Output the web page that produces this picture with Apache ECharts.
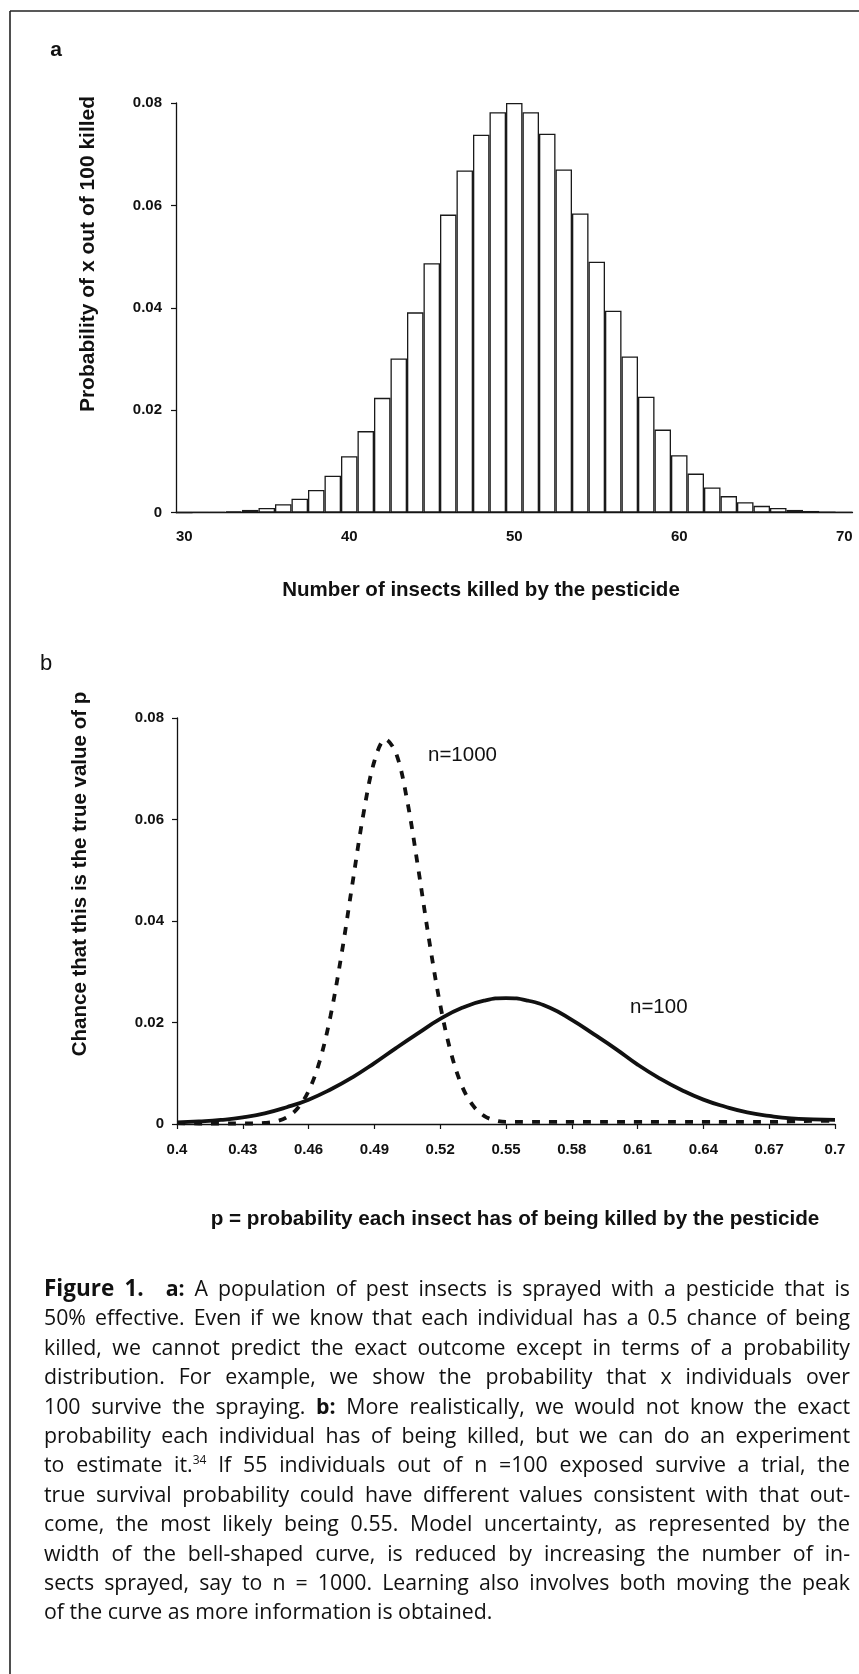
<!DOCTYPE html>
<html><head><meta charset="utf-8">
<script src="https://cdn.jsdelivr.net/npm/echarts@6/dist/echarts.min.js"></script>
<style>
html,body{margin:0;padding:0;background:#fff;}
#chart{position:absolute;left:0;top:0;width:859px;height:1674px;}
#caption{position:absolute;left:44px;top:1273px;width:806px;font-family:"Open Sans",sans-serif;font-size:21.3px;line-height:29.4px;color:#111;}
#caption div{text-align:justify;text-align-last:justify;white-space:nowrap;}
#caption div.last{text-align-last:left;}
#caption b{font-weight:700;}
#caption b.fig{font-size:22.5px;}
#caption sup{font-size:12px;line-height:0;vertical-align:8px;}
#caption .gap{display:inline-block;width:12px;}
</style></head><body>
<div id="chart"></div>
<div id="caption">
<div><b class="fig">Figure 1.</b><span class="gap"></span> <b>a:</b> A population of pest insects is sprayed with a pesticide that is</div>
<div>50% effective. Even if we know that each individual has a 0.5 chance of being</div>
<div>killed, we cannot predict the exact outcome except in terms of a probability</div>
<div>distribution. For example, we show the probability that x individuals over</div>
<div>100 survive the spraying. <b>b:</b> More realistically, we would not know the exact</div>
<div>probability each individual has of being killed, but we can do an experiment</div>
<div>to estimate it.<sup>34</sup> If 55 individuals out of n =100 exposed survive a trial, the</div>
<div>true survival probability could have different values consistent with that out-</div>
<div>come, the most likely being 0.55. Model uncertainty, as represented by the</div>
<div>width of the bell-shaped curve, is reduced by increasing the number of in-</div>
<div>sects sprayed, say to n = 1000. Learning also involves both moving the peak</div>
<div class="last">of the curve as more information is obtained.</div>
</div>
<script>
// Panel a: number killed (categories) and probabilities
const killedCategories = ['30','31','32','33','34','35','36','37','38','39','40','41','42','43','44','45','46','47','48','49','50','51','52','53','54','55','56','57','58','59','60','61','62','63','64','65','66','67','68','69','70'];
const killedProb = [0, 0.00002, 0.00005, 0.0002, 0.0005, 0.0009, 0.0016, 0.0027, 0.0044, 0.0072,
  0.0110, 0.0159, 0.0224, 0.0301, 0.0391, 0.0487, 0.0582, 0.0668, 0.0738, 0.0782,
  0.0800, 0.0782, 0.0740, 0.0670, 0.0584, 0.0490, 0.0394, 0.0305, 0.0226, 0.0162,
  0.0112, 0.0076, 0.0049, 0.0032, 0.0020, 0.0013, 0.0009, 0.0005, 0.0003, 0.0001, 0.00005];

// Panel b: tick labels and the two curves
const pTickLabels = [0.4, 0.43, 0.46, 0.49, 0.52, 0.55, 0.58, 0.61, 0.64, 0.67, 0.7];
const pN100 = [0.40,0.41,0.42,0.43,0.44,0.45,0.46,0.47,0.48,0.49,0.50,0.51,0.52,0.53,0.54,0.55,0.56,0.57,0.58,0.59,0.60,0.61,0.62,0.63,0.64,0.65,0.66,0.67,0.68,0.69,0.70];
const chanceN100 = [0.0003,0.0005,0.0008,0.0013,0.0021,0.0033,0.0048,0.0068,0.0092,0.0120,0.0150,0.0179,0.0207,0.0229,0.0243,0.0248,0.0243,0.0229,0.0205,0.0177,0.0148,0.0117,0.0090,0.0067,0.0048,0.0034,0.0023,0.0016,0.0011,0.0009,0.0008];
const pN1000 = [0.40,0.41,0.42,0.43,0.435,0.44,0.445,0.45,0.455,0.46,0.465,0.47,0.475,0.48,0.485,0.49,0.495,0.50,0.505,0.51,0.515,0.52,0.525,0.53,0.535,0.54,0.545,0.55,0.56,0.57,0.58,0.59,0.60,0.61,0.62,0.63,0.64,0.65,0.66,0.67,0.68,0.69,0.70];
const chanceN1000 = [0.0002,0.0001,0.0001,0.0001,0.0001,0.0002,0.0005,0.0013,0.0031,0.0065,0.0123,0.0213,0.0334,0.0474,0.0611,0.0715,0.0758,0.0729,0.0636,0.0503,0.0361,0.0235,0.0139,0.0074,0.0036,0.0016,0.0007,0.0004,0.0004,0.0004,0.0004,0.0004,0.0004,0.0004,0.0004,0.0004,0.0004,0.0004,0.0004,0.0004,0.0005,0.0006,0.0006];

const FONT = '"Liberation Sans", Arial, sans-serif';
const INK = '#111';
const chart = echarts.init(document.getElementById('chart'), null, {renderer:'canvas'});

const tickLabel = (size) => ({color:INK, fontFamily:FONT, fontWeight:'bold', fontSize:size});
const yAxisCommon = (grid, size, margin) => ({
  gridIndex:grid, type:'value', min:0, max:0.08, interval:0.02,
  splitLine:{show:false},
  axisLine:{show:true, lineStyle:{color:INK, width:1.3}},
  axisTick:{show:true, length:5, lineStyle:{color:INK, width:1.2}},
  axisLabel:Object.assign({margin:margin}, tickLabel(size))
});

const textEl = (x, y, text, size, weight, rot) => ({
  type:'text', x:x, y:y, rotation:rot || 0, silent:true,
  style:{text:text, fill:INK, font:(weight||'normal') + ' ' + size + 'px ' + FONT, align:'center', verticalAlign:'middle'}
});

chart.setOption({
  animation:false,
  backgroundColor:'#fff',
  grid:[
    {left:176, top:103, width:676.5, height:409.5},
    {left:177, top:718, width:658, height:406}
  ],
  xAxis:[
    {gridIndex:0, type:'category', data:killedCategories, boundaryGap:true,
     axisLine:{lineStyle:{color:INK, width:1.3}},
     axisTick:{interval:9, length:5, lineStyle:{color:INK, width:1.2}},
     axisLabel:Object.assign({interval:9, margin:17}, tickLabel(15))},
    {gridIndex:1, type:'value', min:0.4, max:0.7, splitLine:{show:false},
     axisLine:{onZero:false, lineStyle:{color:INK, width:1.3}},
     axisTick:{customValues:pTickLabels, length:5, lineStyle:{color:INK, width:1.2}},
     axisLabel:Object.assign({customValues:pTickLabels, margin:18}, tickLabel(15))}
  ],
  yAxis:[yAxisCommon(0, 15, 14), yAxisCommon(1, 15, 13)],
  series:[
    {type:'bar', xAxisIndex:0, yAxisIndex:0, data:killedProb, barCategoryGap:'0%',
     itemStyle:{color:'#fff', borderColor:'#1a1a1a', borderWidth:1.3}},
    {type:'line', name:'n=100', xAxisIndex:1, yAxisIndex:1,
     data:pN100.map((p,i)=>[p, chanceN100[i]]), smooth:0.5, showSymbol:false,
     lineStyle:{color:INK, width:3.8}},
    {type:'line', name:'n=1000', xAxisIndex:1, yAxisIndex:1,
     data:pN1000.map((p,i)=>[p, chanceN1000[i]]), smooth:0.35, showSymbol:false,
     lineStyle:{color:INK, width:3.8, type:[8,9], cap:'butt'}}
  ],
  graphic:[
    {type:'line', silent:true, shape:{x1:10, y1:11, x2:859, y2:11}, style:{stroke:'#222', lineWidth:1.6}},
    {type:'line', silent:true, shape:{x1:10, y1:11, x2:10, y2:1674}, style:{stroke:'#222', lineWidth:1.6}},
    textEl(56, 50, 'a', 21, 'bold'),
    textEl(46, 664, 'b', 22, 'normal'),
    textEl(88, 254, 'Probability of x out of 100 killed', 21, 'bold', Math.PI/2),
    textEl(481, 590, 'Number of insects killed by the pesticide', 20.5, 'bold'),
    textEl(80, 874, 'Chance that this is the true value of p', 20.5, 'bold', Math.PI/2),
    textEl(515, 1219, 'p = probability each insect has of being killed by the pesticide', 20.7, 'bold'),
    {type:'text', x:428, y:755, silent:true, style:{text:'n=1000', fill:INK, font:'normal 20.5px ' + FONT, align:'left', verticalAlign:'middle'}},
    {type:'text', x:630, y:1007, silent:true, style:{text:'n=100', fill:INK, font:'normal 20.5px ' + FONT, align:'left', verticalAlign:'middle'}}
  ]
});
</script>
</body></html>
